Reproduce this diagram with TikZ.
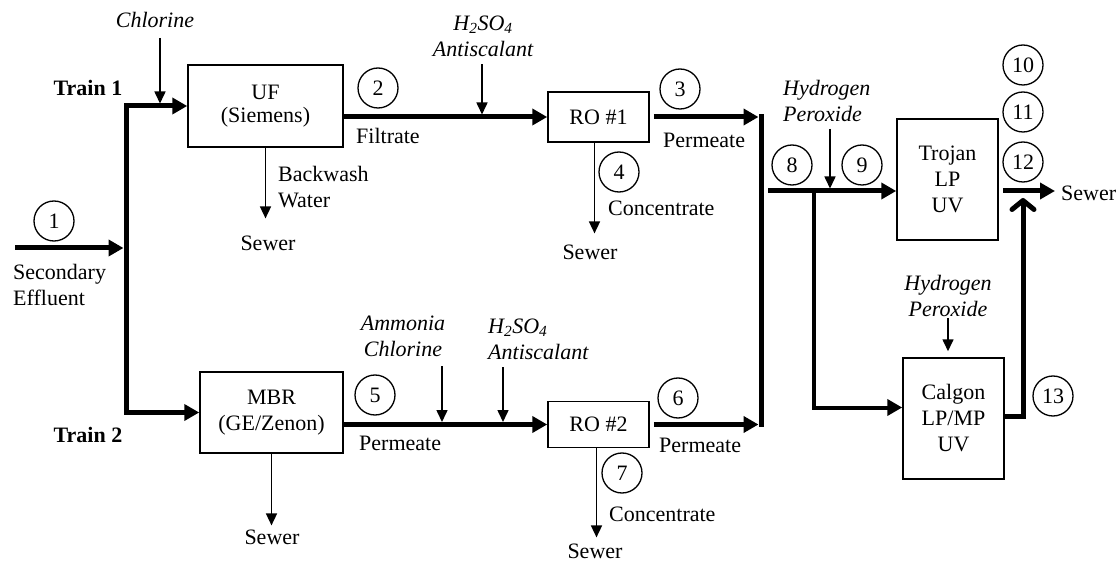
\documentclass[tikz,border=0pt]{standalone}
\usepackage{fontspec}
\setmainfont{Liberation Serif}
\usetikzlibrary{arrows.meta,positioning}
\newcommand{\flowfont}{\fontsize{22}{26}\selectfont}

\begin{document}
\begin{tikzpicture}[x=1pt,y=-1pt,font=\flowfont,
		unit/.style={draw, line width=1.5pt, align=center, inner sep=0pt},
		num/.style={circle, draw, line width=1.3pt, minimum size=40pt, inner sep=0pt},
		lab/.style={inner sep=1pt, align=left},
		chem/.style={lab, font=\flowfont\itshape},
		flow/.style={line width=5pt, >={Triangle[length=15pt,width=16pt]}, ->},
		feed/.style={line width=1.6pt, >={Triangle[length=12pt,width=11pt]}, ->}]
		\useasboundingbox (0,0) rectangle (1120,564);
		
		% treatment units
		\node[unit, minimum width=155pt, minimum height=82pt] (uf) at (265.5,106) {UF\\[-3pt](Siemens)};
		\node[unit, minimum width=101pt, minimum height=50pt] (ro1) at (598.5,117) {RO \#1};
		\node[unit, minimum width=143pt, minimum height=81pt] (mbr) at (271.5,412.5) {MBR\\(GE/Zenon)};
		\node[unit, minimum width=101pt, minimum height=46pt] (ro2) at (598.5,424.5) {RO \#2};
		\node[unit, minimum width=101pt, minimum height=121pt] (trojan) at (947.5,179.5) {Trojan\\LP\\UV};
		\node[unit, minimum width=101pt, minimum height=121pt] (calgon) at (953.5,418.5) {Calgon\\LP/MP\\UV};
		
		% sample points
		\node[num] (n1) at (54,221) {1};
		\node[num] (n2) at (378,88) {2};
		\node[num] (n3) at (680,89) {3};
		\node[num] (n4) at (619,172) {4};
		\node[num] (n5) at (375,395) {5};
		\node[num] (n6) at (678,398) {6};
		\node[num] (n7) at (622,473) {7};
		\node[num] (n8) at (792,165) {8};
		\node[num] (n9) at (862,165) {9};
		\foreach \k/\y in {10/65,11/112,12/162}
			\node[num] (n\k) at (1023,\y) {\k};
		\node[num] (n13) at (1053,396) {13};
		
		% labels
		\node[lab, anchor=west] (feedin) at (12,284.5) {Secondary\\Effluent};
		\node[lab, font=\flowfont\bfseries] (train1) at (88,88) {Train 1};
		\node[lab, font=\flowfont\bfseries] (train2) at (88,435) {Train 2};
		\node[chem] (chl1) at (155,20) {Chlorine};
		\node[lab, anchor=west] (bwash) at (277,187.5) {Backwash\\Water};
		\node[lab] (sew1) at (268,243) {Sewer};
		\node[lab, anchor=west] (filt) at (355,136) {Filtrate};
		\node[chem, align=center] (acid1) at (483,36.5) {H\textsubscript{2}SO\textsubscript{4}\\Antiscalant};
		\node[lab, anchor=west] (perm1) at (662,140) {Permeate};
		\node[lab, anchor=west] (conc1) at (607,208) {Concentrate};
		\node[lab] (sew2) at (590,252) {Sewer};
		\node[lab] (sew3) at (272,537) {Sewer};
		\node[lab, anchor=west] (perm2) at (358,443) {Permeate};
		\node[chem, align=center] (amcl) at (403,336.5) {Ammonia\\Chlorine};
		\node[chem, anchor=west] (acid2) at (487,339.5) {H\textsubscript{2}SO\textsubscript{4}\\Antiscalant};
		\node[lab, anchor=west] (perm3) at (658,445) {Permeate};
		\node[lab, anchor=west] (conc2) at (608,514) {Concentrate};
		\node[lab] (sew4) at (595,551) {Sewer};
		\node[chem, anchor=west] (perox1) at (782,101) {Hydrogen\\Peroxide};
		\node[chem, align=center] (perox2) at (948,296) {Hydrogen\\Peroxide};
		\node[lab, anchor=west] (sew5) at (1060,193) {Sewer};
		
		% junctions and dosing points
		\coordinate (src) at (15,248);
		\coordinate (bus) at (126,248);
		\coordinate (mix) at (761,191);
		\coordinate (tee) at (814,191);
		\coordinate (uvout) at (1023,198);
		\coordinate (dose1) at (160,103.5);
		\coordinate (dose2) at (482,114.5);
		\coordinate (dose3) at (442,422);
		\coordinate (dose4) at (503,422);
		\coordinate (dose5) at (830,188.5);
		
		% main flows
		\draw[flow, shorten >=2.5pt] (src) -- (bus);
		\draw[flow, <->] (uf.west) -| (bus) |- (mbr.west);
		\draw[flow] (uf.east |- ro1) -- (ro1);
		\draw[flow] (mbr.east |- ro2) -- (ro2);
		\draw[flow, shorten <=4pt, shorten >=2.5pt] (ro1.east) -- (ro1 -| mix);
		\draw[flow, shorten <=4pt, shorten >=2.5pt] (ro2.east) -- (ro2 -| mix);
		\draw[flow, -, line cap=rect] (ro1 -| mix) -- (ro2 -| mix);
		\draw[flow, shorten <=7pt] (mix) -- (mix -| trojan.west);
		\draw[flow, line width=4pt] (tee) |- ([yshift=11pt]calgon.west);
		\draw[flow, -{Straight Barb[length=9pt,width=22pt,round]}] ([yshift=2.5pt]calgon.east) -| (uvout);
		\draw[flow, shorten <=4pt, shorten >=5pt] (mix -| trojan.east) -- (mix -| sew5.west);
		
		% chemical feeds
		\draw[feed, shorten <=9pt] (chl1.south -| dose1) -- (dose1);
		\draw[feed, shorten <=6pt] (acid1.south -| dose2) -- (dose2);
		\draw[feed, shorten <=8pt] (amcl.south -| dose3) -- (dose3);
		\draw[feed, shorten <=6pt] (acid2.south -| dose4) -- (dose4);
		\draw[feed, shorten <=6pt] (perox1.south -| dose5) -- (dose5);
		\draw[feed, shorten >=6pt] (perox2.south) -- (perox2.south |- calgon.north);
		
		% waste streams
		\draw[feed, shorten >=16pt] (uf.south) -- (uf.south |- sew1.north);
		\draw[feed, shorten >=10pt] ([xshift=-4pt]ro1.south) -- ([xshift=-4pt]ro1.south |- sew2.north);
		\draw[feed, shorten >=3pt] (mbr.south) -- (mbr.south |- sew3.north);
		\draw[feed, shorten >=5pt] ([xshift=-2pt]ro2.south) -- ([xshift=-2pt]ro2.south |- sew4.north);
		
	\end{tikzpicture}
\end{document}
